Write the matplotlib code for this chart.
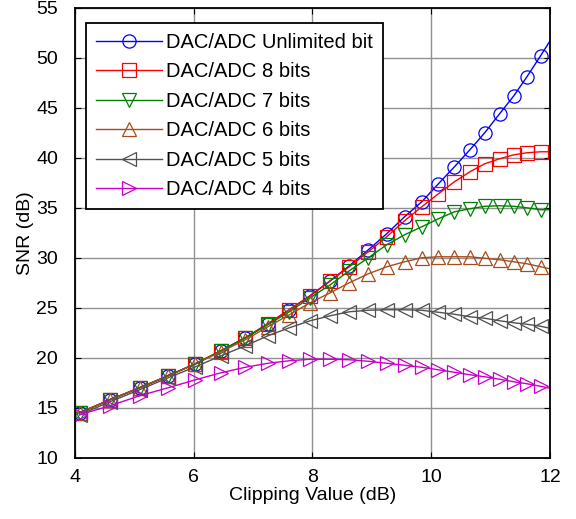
import matplotlib
matplotlib.use("Agg")
import matplotlib.pyplot as plt

plt.rcParams["font.family"] = ["Liberation Sans", "DejaVu Sans"]

# marker positions (clipping value, dB); last entry is the line end at x=12
clip_db = [4.08, 4.59, 5.09, 5.57, 6.03, 6.46, 6.87, 7.25, 7.61, 7.96, 8.30, 8.62,
           8.94, 9.25, 9.55, 9.84, 10.12, 10.39, 10.65, 10.90, 11.15, 11.39, 11.61,
           11.84, 12.0]

snr_unlim = [14.5, 15.8, 17.0, 18.2, 19.4, 20.7, 22.0, 23.4, 24.8, 26.2, 27.7, 29.2,
             30.8, 32.4, 34.1, 35.6, 37.4, 39.1, 40.8, 42.5, 44.4, 46.2, 48.1, 50.2, 51.7]
snr_8bit = [14.5, 15.8, 17.0, 18.2, 19.4, 20.7, 22.0, 23.4, 24.8, 26.2, 27.7, 29.1,
            30.6, 32.1, 33.7, 35.1, 36.4, 37.6, 38.6, 39.4, 39.9, 40.3, 40.5, 40.6, 40.6]
snr_7bit = [14.5, 15.8, 17.0, 18.2, 19.4, 20.7, 22.0, 23.3, 24.6, 26.0, 27.3, 28.7,
            30.0, 31.3, 32.3, 33.1, 33.9, 34.6, 34.9, 35.15, 35.2, 35.15, 35.0, 34.8, 34.8]
snr_6bit = [14.5, 15.8, 17.0, 18.2, 19.4, 20.6, 21.8, 23.1, 24.3, 25.5, 26.5, 27.5,
            28.4, 29.1, 29.6, 30.0, 30.1, 30.1, 30.1, 29.95, 29.8, 29.6, 29.4, 29.1, 28.9]
snr_5bit = [14.3, 15.6, 16.8, 18.0, 19.1, 20.2, 21.2, 22.2, 23.0, 23.7, 24.2, 24.6,
            24.75, 24.8, 24.8, 24.75, 24.55, 24.35, 24.1, 23.95, 23.7, 23.5, 23.35, 23.15, 22.95]
snr_4bit = [14.3, 15.2, 16.2, 17.0, 17.8, 18.5, 19.05, 19.45, 19.7, 19.85, 19.85, 19.8,
            19.65, 19.45, 19.25, 19.05, 18.8, 18.55, 18.3, 18.1, 17.85, 17.6, 17.4, 17.15, 16.95]

labels = ["DAC/ADC Unlimited bit", "DAC/ADC 8 bits", "DAC/ADC 7 bits",
          "DAC/ADC 6 bits", "DAC/ADC 5 bits", "DAC/ADC 4 bits"]
series = [snr_unlim, snr_8bit, snr_7bit, snr_6bit, snr_5bit, snr_4bit]
colors = ["#0000ff", "#ff0000", "#008000", "#a84c1c", "#505050", "#c800c8"]
markers = ["o", "s", "v", "^", "<", ">"]

fig = plt.figure(figsize=(5.76, 5.19), dpi=100)
ax = fig.add_axes([0.130, 0.118, 0.825, 0.867])

mk = list(range(len(clip_db) - 1))
for y, lab, c, m in zip(series, labels, colors, markers):
    ax.plot(clip_db, y, color=c, lw=1.0, marker=m, markevery=mk, ms=9.5,
            mfc="none", mec=c, mew=0.9, label=lab)

ax.set_xlim(4, 12); ax.set_ylim(10, 55)
ax.set_xticks([4, 6, 8, 10, 12]); ax.set_yticks(range(10, 56, 5))
ax.grid(True, color="#909090", lw=1.0)
ax.set_axisbelow(True)
ax.tick_params(direction="in", top=True, right=True, labelsize=14, length=4)
ax.tick_params(axis="x", pad=8)
ax.tick_params(axis="y", pad=12)
for s in ax.spines.values():
    s.set_linewidth(1.3)
ax.set_xlabel("Clipping Value (dB)", fontsize=14, labelpad=1)
ax.set_ylabel("SNR (dB)", fontsize=14, labelpad=2)

leg = ax.legend(loc="upper left", bbox_to_anchor=(0.023, 0.967), fontsize=14.5,
                handlelength=3.3, handletextpad=0.2, borderpad=0.5, labelspacing=0.52,
                fancybox=False, framealpha=1, edgecolor="black", borderaxespad=0)
leg.get_frame().set_linewidth(1.3)

fig.savefig("out.png", dpi=100)
